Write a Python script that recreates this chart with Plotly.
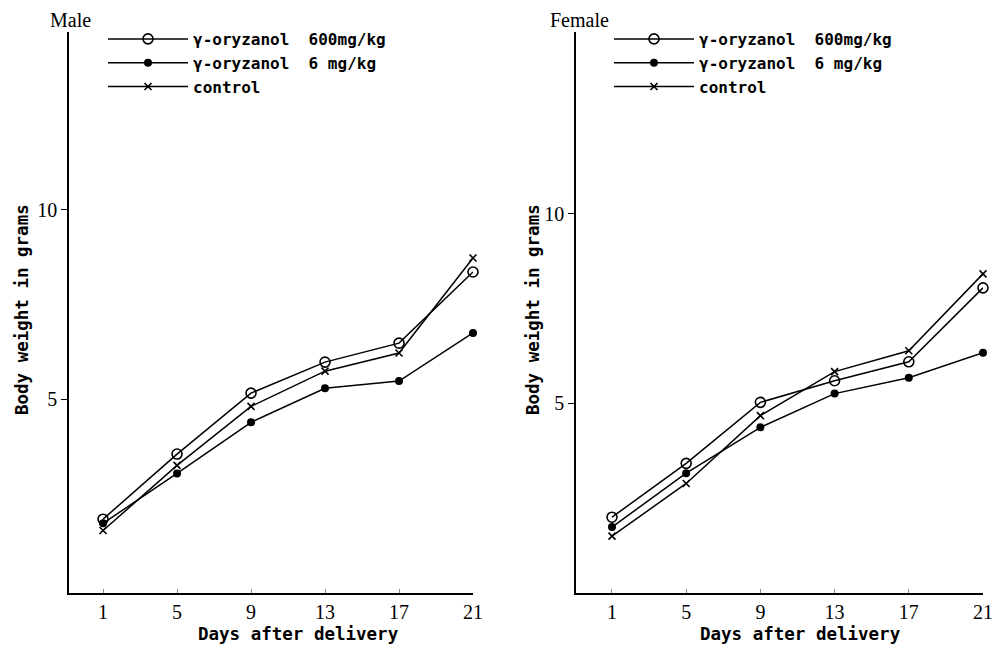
import plotly.graph_objects as go

days = [1, 5, 9, 13, 17, 21]
tick_labels = ["1", "5", "9", "13", "17", "21"]

series_names = ["γ-oryzanol  600mg/kg", "γ-oryzanol  6 mg/kg", "control"]

male_600 = [1.83, 3.55, 5.16, 5.98, 6.48, 8.36]
male_6 = [1.72, 3.04, 4.39, 5.29, 5.48, 6.75]
male_ctrl = [1.53, 3.25, 4.81, 5.74, 6.22, 8.73]

female_600 = [2.0, 3.42, 5.03, 5.60, 6.10, 8.05]
female_6 = [1.74, 3.16, 4.37, 5.26, 5.68, 6.34]
female_ctrl = [1.50, 2.89, 4.68, 5.84, 6.39, 8.42]

styles = [
    dict(symbol="circle-open", size=10, color="black", line=dict(width=1.6, color="black")),
    dict(symbol="circle", size=8, color="black"),
    dict(symbol="x-thin", size=7, color="black", line=dict(width=1.6, color="black")),
]

mono = "DejaVu Sans Mono"
serif = "Liberation Serif"

fig = go.Figure()
for panel, (data, xa, ya, lg) in enumerate([
    ((male_600, male_6, male_ctrl), "x", "y", "legend"),
    ((female_600, female_6, female_ctrl), "x2", "y2", "legend2"),
]):
    for name, vals, st in zip(series_names, data, styles):
        fig.add_trace(go.Scatter(
            x=days, y=vals, name=name, mode="lines+markers",
            line=dict(color="black", width=1.5),
            marker=st, xaxis=xa, yaxis=ya, legend=lg, cliponaxis=False,
        ))

ydom = [1 - 593 / 650, 1 - 32 / 650]
axis_common = dict(showgrid=False, zeroline=False, showline=True, linecolor="black",
                   linewidth=1.5, mirror=False, automargin=False)
tf = dict(family=serif, size=20, color="black")
fig.update_layout(
    width=994, height=650,
    paper_bgcolor="white", plot_bgcolor="white",
    margin=dict(l=0, r=0, t=0, b=0),
    showlegend=True,
    xaxis=dict(domain=[69 / 994, 473 / 994], range=[-0.84, 21], tickvals=days, ticktext=tick_labels,
               ticks="inside", ticklen=4, tickcolor="#888", tickfont=tf, **axis_common),
    yaxis=dict(domain=ydom, range=[-0.12, 14.7], tickvals=[5, 10], ticktext=["5", "10"],
               ticks="outside", ticklen=6, tickcolor="black", tickfont=tf, **axis_common),
    xaxis2=dict(domain=[576 / 994, 983 / 994], range=[-0.94, 21], tickvals=days, ticktext=tick_labels,
                ticks="inside", ticklen=4, tickcolor="#888", tickfont=tf, anchor="y2", **axis_common),
    yaxis2=dict(domain=ydom, range=[0.0, 14.8], tickvals=[5, 10], ticktext=["5", "10"],
                ticks="outside", ticklen=6, tickcolor="black", anchor="x2", tickfont=tf, **axis_common),
    legend=dict(x=103 / 994, y=1 - 22 / 650, xanchor="left", yanchor="top",
                bgcolor="rgba(0,0,0,0)", itemwidth=80, tracegroupgap=0,
                font=dict(family=mono, size=16, color="black", weight="bold")),
    legend2=dict(x=609 / 994, y=1 - 22 / 650, xanchor="left", yanchor="top",
                 bgcolor="rgba(0,0,0,0)", itemwidth=80, tracegroupgap=0,
                 font=dict(family=mono, size=16, color="black", weight="bold")),
)

ann = [
    dict(text="Male", x=48 / 994, y=1 - 20 / 650, xanchor="left", yanchor="middle",
         font=dict(family=serif, size=20)),
    dict(text="Female", x=548 / 994, y=1 - 20 / 650, xanchor="left", yanchor="middle",
         font=dict(family=serif, size=20)),
    dict(text="Body weight in grams", x=22 / 994, y=1 - 310 / 650, textangle=-90,
         xanchor="center", yanchor="middle", font=dict(family=mono, size=17.5, weight="bold")),
    dict(text="Body weight in grams", x=533 / 994, y=1 - 310 / 650, textangle=-90,
         xanchor="center", yanchor="middle", font=dict(family=mono, size=17.5, weight="bold")),
    dict(text="Days after delivery", x=298 / 994, y=1 - 634 / 650,
         xanchor="center", yanchor="middle", font=dict(family=mono, size=17.5, weight="bold")),
    dict(text="Days after delivery", x=800 / 994, y=1 - 634 / 650,
         xanchor="center", yanchor="middle", font=dict(family=mono, size=17.5, weight="bold")),
]
for a in ann:
    a.update(xref="paper", yref="paper", showarrow=False)
    a["font"]["color"] = "black"
fig.update_layout(annotations=ann)

fig.write_html("out.html", config={"displayModeBar": False},
               post_script="document.body.style.margin='0';document.body.style.padding='0';")
